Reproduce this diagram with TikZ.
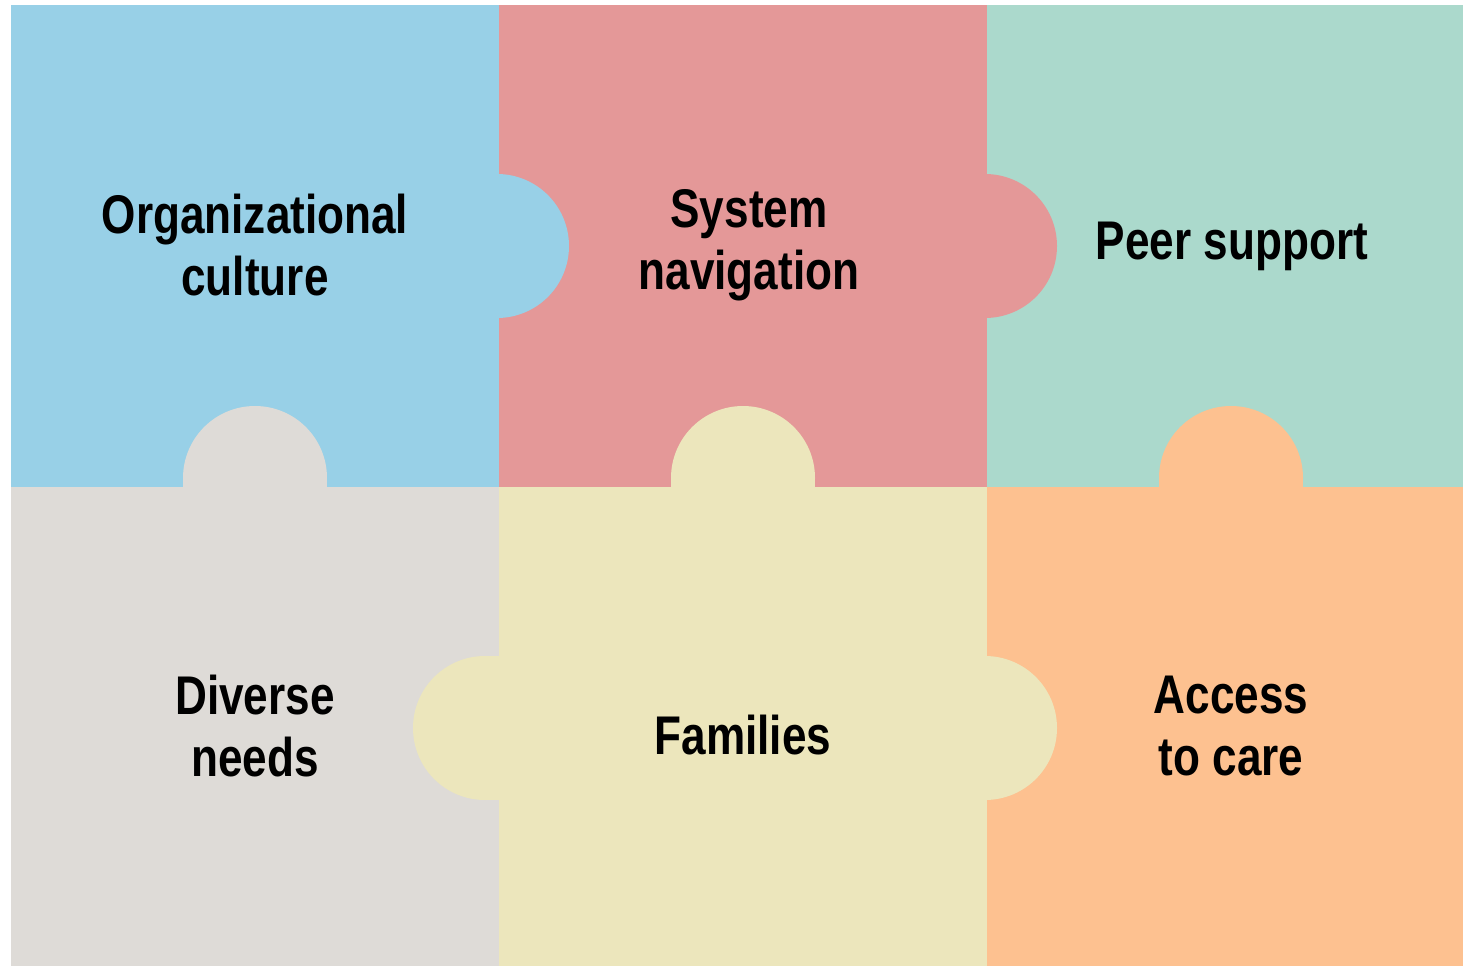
\documentclass[tikz,border=0pt]{standalone}
\usepackage{fontspec}
\setmainfont{Liberation Sans}[FakeStretch=0.81]
\definecolor{pzblue}{HTML}{98D0E7}
\definecolor{pzred}{HTML}{E49898}
\definecolor{pzgreen}{HTML}{ABD9CC}
\definecolor{pzgrey}{HTML}{DEDBD7}
\definecolor{pzyellow}{HTML}{ECE6BC}
\definecolor{pzorange}{HTML}{FDC190}
\tikzset{
  piecelabel/.style={align=center, font=\bfseries\fontsize{31}{35.5}\selectfont}
}
\begin{document}
\begin{tikzpicture}[x=0.02cm, y=-0.02cm]
        \useasboundingbox (0,0) rectangle (1463,966);

        % the six pieces
        \fill[pzblue] (11,5) rectangle (499,487);
        \fill[pzred] (499,5) rectangle (987,487);
        \fill[pzgreen] (987,5) rectangle (1463,487);
        \fill[pzgrey] (11,487) rectangle (499,966);
        \fill[pzyellow] (499,487) rectangle (987,966);
        \fill[pzorange] (987,487) rectangle (1463,966);

        % knobs pointing right
        \fill[pzblue] (497,246) circle (72);
        \fill[pzred] (985,246) circle (72);
        \fill[pzyellow] (985,728) circle (72);

        % knob pointing left
        \fill[pzyellow] (485,728) circle (72);
        \fill[pzyellow] (485,656) rectangle (500,800);

        % knobs pointing up
        \fill[pzgrey] (255,478) circle (72);
        \fill[pzgrey] (183,478) rectangle (327,488);
        \fill[pzyellow] (743,478) circle (72);
        \fill[pzyellow] (671,478) rectangle (815,488);
        \fill[pzorange] (1231,478) circle (72);
        \fill[pzorange] (1159,478) rectangle (1303,488);

        \node[piecelabel] (culture) at (255,245) {Organizational\\culture};
        \node[piecelabel] (navigation) at (749,245) {System\\navigation};
        \node[piecelabel] (peers) at (1232,246) {Peer support};
        \node[piecelabel] (needs) at (255,726) {Diverse\\needs};
        \node[piecelabel] (families) at (743,735) {Families};
        \node[piecelabel] (access) at (1231,726) {Access\\to care};
      \end{tikzpicture}
\end{document}
